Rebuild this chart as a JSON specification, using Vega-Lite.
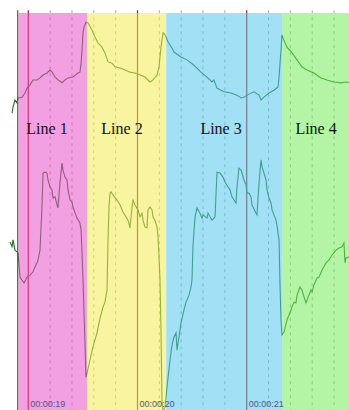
{
  "$schema": "https://vega.github.io/schema/vega-lite/v6.json",
  "width": 349,
  "height": 410,
  "autosize": {"type": "none"},
  "padding": 0,
  "background": "white",
  "config": {"view": {"stroke": null}},
  "datasets": {
    "grid": [{"t": 19.2}, {"t": 19.4}, {"t": 19.6}, {"t": 19.8}, {"t": 20.2}, {"t": 20.4}, {"t": 20.6}, {"t": 20.8}, {"t": 21.2}, {"t": 21.4}, {"t": 21.6}, {"t": 21.8}],
    "cursors": [{"t": 19.0}, {"t": 20.0}, {"t": 21.0}],
    "border": [{"t": 18.903}],
    "bands": [
      {"name": "Line 1", "start": 18.911, "end": 19.5385},
      {"name": "Line 2", "start": 19.5385, "end": 20.2633},
      {"name": "Line 3", "start": 20.2633, "end": 21.3275},
      {"name": "Line 4", "start": 21.3275, "end": 21.95}
    ],
    "bandLabels": [
      {"name": "Line 1", "t": 19.171},
      {"name": "Line 2", "t": 19.858},
      {"name": "Line 3", "t": 20.765},
      {"name": "Line 4", "t": 21.635}
    ],
    "times": [
      {"t": 19.0, "label": "00:00:19"},
      {"t": 20.0, "label": "00:00:20"},
      {"t": 21.0, "label": "00:00:21"}
    ],
    "signal": [
      {"series": "top", "t": 18.851, "v": 72.4}, {"series": "top", "t": 18.860, "v": 73.9}, {"series": "top", "t": 18.878, "v": 75.6}, {"series": "top", "t": 18.896, "v": 74.9}, {"series": "top", "t": 18.906, "v": 76.1}, {"series": "top", "t": 18.942, "v": 76.3}, {"series": "top", "t": 18.970, "v": 77.3}, {"series": "top", "t": 18.988, "v": 78.5}, {"series": "top", "t": 19.016, "v": 79.3}, {"series": "top", "t": 19.043, "v": 80.5}, {"series": "top", "t": 19.080, "v": 80.5}, {"series": "top", "t": 19.107, "v": 81.0}, {"series": "top", "t": 19.135, "v": 81.7}, {"series": "top", "t": 19.171, "v": 82.2}, {"series": "top", "t": 19.199, "v": 82.9}, {"series": "top", "t": 19.217, "v": 82.4}, {"series": "top", "t": 19.245, "v": 81.2}, {"series": "top", "t": 19.272, "v": 80.5}, {"series": "top", "t": 19.309, "v": 79.8}, {"series": "top", "t": 19.336, "v": 80.5}, {"series": "top", "t": 19.364, "v": 81.0}, {"series": "top", "t": 19.409, "v": 81.2}, {"series": "top", "t": 19.455, "v": 82.2}, {"series": "top", "t": 19.473, "v": 82.4}, {"series": "top", "t": 19.483, "v": 84.6}, {"series": "top", "t": 19.492, "v": 87.8}, {"series": "top", "t": 19.501, "v": 92.0}, {"series": "top", "t": 19.510, "v": 93.4}, {"series": "top", "t": 19.528, "v": 94.6}, {"series": "top", "t": 19.547, "v": 94.4}, {"series": "top", "t": 19.583, "v": 92.7}, {"series": "top", "t": 19.611, "v": 91.0}, {"series": "top", "t": 19.638, "v": 89.5}, {"series": "top", "t": 19.675, "v": 88.5}, {"series": "top", "t": 19.702, "v": 87.1}, {"series": "top", "t": 19.730, "v": 84.9}, {"series": "top", "t": 19.766, "v": 84.6}, {"series": "top", "t": 19.794, "v": 83.7}, {"series": "top", "t": 19.840, "v": 83.4}, {"series": "top", "t": 19.886, "v": 82.9}, {"series": "top", "t": 19.931, "v": 82.4}, {"series": "top", "t": 19.977, "v": 82.2}, {"series": "top", "t": 20.023, "v": 81.7}, {"series": "top", "t": 20.069, "v": 81.2}, {"series": "top", "t": 20.114, "v": 80.0}, {"series": "top", "t": 20.142, "v": 80.5}, {"series": "top", "t": 20.179, "v": 81.7}, {"series": "top", "t": 20.197, "v": 83.7}, {"series": "top", "t": 20.215, "v": 88.5}, {"series": "top", "t": 20.234, "v": 92.0}, {"series": "top", "t": 20.252, "v": 91.5}, {"series": "top", "t": 20.279, "v": 89.8}, {"series": "top", "t": 20.316, "v": 88.3}, {"series": "top", "t": 20.334, "v": 87.3}, {"series": "top", "t": 20.398, "v": 86.1}, {"series": "top", "t": 20.453, "v": 85.4}, {"series": "top", "t": 20.517, "v": 84.1}, {"series": "top", "t": 20.581, "v": 82.4}, {"series": "top", "t": 20.636, "v": 81.2}, {"series": "top", "t": 20.682, "v": 80.0}, {"series": "top", "t": 20.700, "v": 80.5}, {"series": "top", "t": 20.728, "v": 78.5}, {"series": "top", "t": 20.792, "v": 77.6}, {"series": "top", "t": 20.856, "v": 77.3}, {"series": "top", "t": 20.911, "v": 76.8}, {"series": "top", "t": 20.948, "v": 76.1}, {"series": "top", "t": 20.975, "v": 76.3}, {"series": "top", "t": 21.003, "v": 76.8}, {"series": "top", "t": 21.067, "v": 77.6}, {"series": "top", "t": 21.113, "v": 76.8}, {"series": "top", "t": 21.131, "v": 75.6}, {"series": "top", "t": 21.158, "v": 76.3}, {"series": "top", "t": 21.204, "v": 77.3}, {"series": "top", "t": 21.250, "v": 78.0}, {"series": "top", "t": 21.287, "v": 78.8}, {"series": "top", "t": 21.296, "v": 81.2}, {"series": "top", "t": 21.314, "v": 87.8}, {"series": "top", "t": 21.323, "v": 91.5}, {"series": "top", "t": 21.332, "v": 90.7}, {"series": "top", "t": 21.369, "v": 88.5}, {"series": "top", "t": 21.415, "v": 87.1}, {"series": "top", "t": 21.461, "v": 85.4}, {"series": "top", "t": 21.506, "v": 83.7}, {"series": "top", "t": 21.552, "v": 82.9}, {"series": "top", "t": 21.616, "v": 82.2}, {"series": "top", "t": 21.680, "v": 81.0}, {"series": "top", "t": 21.735, "v": 80.5}, {"series": "top", "t": 21.799, "v": 80.0}, {"series": "top", "t": 21.863, "v": 79.8}, {"series": "top", "t": 21.909, "v": 80.0}, {"series": "top", "t": 21.937, "v": 79.8},
      {"series": "bottom", "t": 18.832, "v": 41.0}, {"series": "bottom", "t": 18.851, "v": 39.8}, {"series": "bottom", "t": 18.860, "v": 41.5}, {"series": "bottom", "t": 18.878, "v": 39.0}, {"series": "bottom", "t": 18.906, "v": 38.3}, {"series": "bottom", "t": 18.924, "v": 32.4}, {"series": "bottom", "t": 18.942, "v": 31.7}, {"series": "bottom", "t": 18.961, "v": 31.0}, {"series": "bottom", "t": 18.988, "v": 32.4}, {"series": "bottom", "t": 19.016, "v": 32.9}, {"series": "bottom", "t": 19.043, "v": 33.7}, {"series": "bottom", "t": 19.061, "v": 34.9}, {"series": "bottom", "t": 19.080, "v": 35.9}, {"series": "bottom", "t": 19.089, "v": 36.6}, {"series": "bottom", "t": 19.107, "v": 39.0}, {"series": "bottom", "t": 19.125, "v": 49.5}, {"series": "bottom", "t": 19.135, "v": 57.8}, {"series": "bottom", "t": 19.153, "v": 58.0}, {"series": "bottom", "t": 19.171, "v": 57.8}, {"series": "bottom", "t": 19.180, "v": 56.1}, {"series": "bottom", "t": 19.199, "v": 54.4}, {"series": "bottom", "t": 19.217, "v": 53.7}, {"series": "bottom", "t": 19.226, "v": 51.7}, {"series": "bottom", "t": 19.245, "v": 52.0}, {"series": "bottom", "t": 19.263, "v": 50.0}, {"series": "bottom", "t": 19.272, "v": 49.3}, {"series": "bottom", "t": 19.290, "v": 55.4}, {"series": "bottom", "t": 19.309, "v": 60.2}, {"series": "bottom", "t": 19.318, "v": 58.5}, {"series": "bottom", "t": 19.336, "v": 56.8}, {"series": "bottom", "t": 19.354, "v": 56.1}, {"series": "bottom", "t": 19.364, "v": 53.7}, {"series": "bottom", "t": 19.382, "v": 51.2}, {"series": "bottom", "t": 19.400, "v": 50.7}, {"series": "bottom", "t": 19.409, "v": 49.5}, {"series": "bottom", "t": 19.446, "v": 46.8}, {"series": "bottom", "t": 19.473, "v": 45.6}, {"series": "bottom", "t": 19.483, "v": 43.9}, {"series": "bottom", "t": 19.492, "v": 38.3}, {"series": "bottom", "t": 19.501, "v": 31.7}, {"series": "bottom", "t": 19.519, "v": 16.3}, {"series": "bottom", "t": 19.528, "v": 8.0}, {"series": "bottom", "t": 19.538, "v": 9.0}, {"series": "bottom", "t": 19.565, "v": 12.2}, {"series": "bottom", "t": 19.592, "v": 15.4}, {"series": "bottom", "t": 19.629, "v": 18.8}, {"series": "bottom", "t": 19.657, "v": 22.4}, {"series": "bottom", "t": 19.684, "v": 25.1}, {"series": "bottom", "t": 19.702, "v": 26.3}, {"series": "bottom", "t": 19.721, "v": 29.3}, {"series": "bottom", "t": 19.730, "v": 41.5}, {"series": "bottom", "t": 19.739, "v": 49.5}, {"series": "bottom", "t": 19.748, "v": 52.9}, {"series": "bottom", "t": 19.757, "v": 53.2}, {"series": "bottom", "t": 19.776, "v": 52.4}, {"series": "bottom", "t": 19.812, "v": 51.2}, {"series": "bottom", "t": 19.840, "v": 50.0}, {"series": "bottom", "t": 19.867, "v": 48.3}, {"series": "bottom", "t": 19.913, "v": 46.3}, {"series": "bottom", "t": 19.931, "v": 44.4}, {"series": "bottom", "t": 19.950, "v": 49.5}, {"series": "bottom", "t": 19.959, "v": 51.2}, {"series": "bottom", "t": 19.977, "v": 50.0}, {"series": "bottom", "t": 20.005, "v": 48.8}, {"series": "bottom", "t": 20.023, "v": 47.1}, {"series": "bottom", "t": 20.041, "v": 48.0}, {"series": "bottom", "t": 20.050, "v": 46.3}, {"series": "bottom", "t": 20.069, "v": 44.6}, {"series": "bottom", "t": 20.087, "v": 44.4}, {"series": "bottom", "t": 20.096, "v": 48.8}, {"series": "bottom", "t": 20.114, "v": 49.5}, {"series": "bottom", "t": 20.133, "v": 48.8}, {"series": "bottom", "t": 20.142, "v": 47.1}, {"series": "bottom", "t": 20.160, "v": 46.3}, {"series": "bottom", "t": 20.179, "v": 44.6}, {"series": "bottom", "t": 20.188, "v": 42.2}, {"series": "bottom", "t": 20.197, "v": 37.3}, {"series": "bottom", "t": 20.206, "v": 31.7}, {"series": "bottom", "t": 20.215, "v": 19.5}, {"series": "bottom", "t": 20.224, "v": 2.4}, {"series": "bottom", "t": 20.234, "v": -0.5}, {"series": "bottom", "t": 20.252, "v": 0.7}, {"series": "bottom", "t": 20.270, "v": 5.6}, {"series": "bottom", "t": 20.298, "v": 12.2}, {"series": "bottom", "t": 20.316, "v": 15.9}, {"series": "bottom", "t": 20.334, "v": 17.8}, {"series": "bottom", "t": 20.353, "v": 18.8}, {"series": "bottom", "t": 20.362, "v": 14.6}, {"series": "bottom", "t": 20.380, "v": 17.8}, {"series": "bottom", "t": 20.398, "v": 21.2}, {"series": "bottom", "t": 20.426, "v": 24.4}, {"series": "bottom", "t": 20.444, "v": 26.3}, {"series": "bottom", "t": 20.453, "v": 26.8}, {"series": "bottom", "t": 20.472, "v": 28.0}, {"series": "bottom", "t": 20.490, "v": 30.0}, {"series": "bottom", "t": 20.499, "v": 31.7}, {"series": "bottom", "t": 20.508, "v": 40.2}, {"series": "bottom", "t": 20.527, "v": 47.1}, {"series": "bottom", "t": 20.545, "v": 49.3}, {"series": "bottom", "t": 20.572, "v": 48.0}, {"series": "bottom", "t": 20.591, "v": 46.8}, {"series": "bottom", "t": 20.600, "v": 47.6}, {"series": "bottom", "t": 20.636, "v": 46.8}, {"series": "bottom", "t": 20.646, "v": 48.0}, {"series": "bottom", "t": 20.682, "v": 46.3}, {"series": "bottom", "t": 20.710, "v": 47.1}, {"series": "bottom", "t": 20.728, "v": 58.0}, {"series": "bottom", "t": 20.755, "v": 57.8}, {"series": "bottom", "t": 20.783, "v": 56.8}, {"series": "bottom", "t": 20.801, "v": 55.6}, {"series": "bottom", "t": 20.829, "v": 54.4}, {"series": "bottom", "t": 20.847, "v": 53.7}, {"series": "bottom", "t": 20.865, "v": 52.0}, {"series": "bottom", "t": 20.902, "v": 50.5}, {"series": "bottom", "t": 20.911, "v": 54.4}, {"series": "bottom", "t": 20.929, "v": 59.0}, {"series": "bottom", "t": 20.948, "v": 58.5}, {"series": "bottom", "t": 20.957, "v": 57.8}, {"series": "bottom", "t": 20.975, "v": 56.1}, {"series": "bottom", "t": 20.994, "v": 54.9}, {"series": "bottom", "t": 21.003, "v": 52.9}, {"series": "bottom", "t": 21.021, "v": 52.9}, {"series": "bottom", "t": 21.039, "v": 52.0}, {"series": "bottom", "t": 21.049, "v": 50.0}, {"series": "bottom", "t": 21.085, "v": 48.0}, {"series": "bottom", "t": 21.094, "v": 47.6}, {"series": "bottom", "t": 21.113, "v": 55.4}, {"series": "bottom", "t": 21.131, "v": 61.0}, {"series": "bottom", "t": 21.140, "v": 59.3}, {"series": "bottom", "t": 21.158, "v": 57.8}, {"series": "bottom", "t": 21.177, "v": 56.1}, {"series": "bottom", "t": 21.186, "v": 53.7}, {"series": "bottom", "t": 21.204, "v": 51.7}, {"series": "bottom", "t": 21.223, "v": 50.5}, {"series": "bottom", "t": 21.232, "v": 48.8}, {"series": "bottom", "t": 21.268, "v": 46.3}, {"series": "bottom", "t": 21.277, "v": 45.1}, {"series": "bottom", "t": 21.296, "v": 41.5}, {"series": "bottom", "t": 21.305, "v": 30.5}, {"series": "bottom", "t": 21.314, "v": 22.0}, {"series": "bottom", "t": 21.323, "v": 18.3}, {"series": "bottom", "t": 21.342, "v": 19.0}, {"series": "bottom", "t": 21.369, "v": 22.0}, {"series": "bottom", "t": 21.406, "v": 24.4}, {"series": "bottom", "t": 21.415, "v": 25.1}, {"series": "bottom", "t": 21.433, "v": 26.3}, {"series": "bottom", "t": 21.451, "v": 26.1}, {"series": "bottom", "t": 21.461, "v": 28.0}, {"series": "bottom", "t": 21.488, "v": 30.0}, {"series": "bottom", "t": 21.506, "v": 29.3}, {"series": "bottom", "t": 21.525, "v": 27.6}, {"series": "bottom", "t": 21.543, "v": 26.1}, {"series": "bottom", "t": 21.552, "v": 26.8}, {"series": "bottom", "t": 21.589, "v": 29.3}, {"series": "bottom", "t": 21.598, "v": 28.8}, {"series": "bottom", "t": 21.616, "v": 30.5}, {"series": "bottom", "t": 21.644, "v": 32.2}, {"series": "bottom", "t": 21.662, "v": 32.4}, {"series": "bottom", "t": 21.689, "v": 34.1}, {"series": "bottom", "t": 21.726, "v": 35.9}, {"series": "bottom", "t": 21.754, "v": 36.6}, {"series": "bottom", "t": 21.781, "v": 37.8}, {"series": "bottom", "t": 21.818, "v": 39.0}, {"series": "bottom", "t": 21.845, "v": 39.5}, {"series": "bottom", "t": 21.873, "v": 39.8}, {"series": "bottom", "t": 21.891, "v": 40.7}, {"series": "bottom", "t": 21.900, "v": 35.9}, {"series": "bottom", "t": 21.909, "v": 37.1}, {"series": "bottom", "t": 21.937, "v": 37.3}
    ]
  },
  "layer": [
    {
      "data": {"name": "grid"},
      "mark": {"type": "rule", "stroke": "#a8a8a8", "strokeWidth": 1, "strokeDash": [3, 4]},
      "encoding": {
        "x": {"field": "t", "type": "quantitative", "scale": {"domain": [18.7408, 21.9368], "nice": false, "zero": false}, "axis": null},
        "y": {"datum": 97.5, "type": "quantitative", "scale": {"domain": [0, 100], "nice": false, "zero": false}, "axis": null},
        "y2": {"datum": 0}
      }
    },
    {
      "data": {"name": "border"},
      "mark": {"type": "rule", "stroke": "#4a5a4a", "strokeWidth": 1.2},
      "encoding": {
        "x": {"field": "t", "type": "quantitative"},
        "y": {"datum": 97.5, "type": "quantitative"},
        "y2": {"datum": 0}
      }
    },
    {
      "data": {"name": "cursors"},
      "mark": {"type": "rule", "stroke": "#b01818", "strokeWidth": 1.2},
      "encoding": {
        "x": {"field": "t", "type": "quantitative"},
        "y": {"datum": 97.5, "type": "quantitative"},
        "y2": {"datum": 0}
      }
    },
    {
      "data": {"name": "signal"},
      "mark": {"type": "line", "stroke": "#226e22", "strokeWidth": 1.1, "clip": true},
      "encoding": {
        "x": {"field": "t", "type": "quantitative"},
        "y": {"field": "v", "type": "quantitative"},
        "detail": {"field": "series", "type": "nominal"}
      }
    },
    {
      "data": {"name": "bands"},
      "mark": {"type": "rect", "opacity": 0.55},
      "encoding": {
        "x": {"field": "start", "type": "quantitative"},
        "x2": {"field": "end"},
        "y": {"datum": 96.8, "type": "quantitative"},
        "y2": {"datum": 0},
        "color": {"field": "name", "type": "nominal", "legend": null,
          "scale": {"domain": ["Line 1", "Line 2", "Line 3", "Line 4"], "range": ["#e752ca", "#f2eb52", "#56c7ef", "#75ed5a"]}}
      }
    },
    {
      "data": {"name": "bandLabels"},
      "mark": {"type": "text", "font": "Liberation Serif", "fontSize": 16, "color": "#111111", "align": "center", "baseline": "alphabetic"},
      "encoding": {
        "x": {"field": "t", "type": "quantitative"},
        "y": {"datum": 67.3, "type": "quantitative"},
        "text": {"field": "name"}
      }
    },
    {
      "data": {"name": "times"},
      "mark": {"type": "text", "font": "Liberation Sans", "fontSize": 9, "color": "#55557a", "align": "left", "baseline": "bottom", "dx": 2},
      "encoding": {
        "x": {"field": "t", "type": "quantitative"},
        "y": {"datum": 0.25, "type": "quantitative"},
        "text": {"field": "label"}
      }
    }
  ]
}
